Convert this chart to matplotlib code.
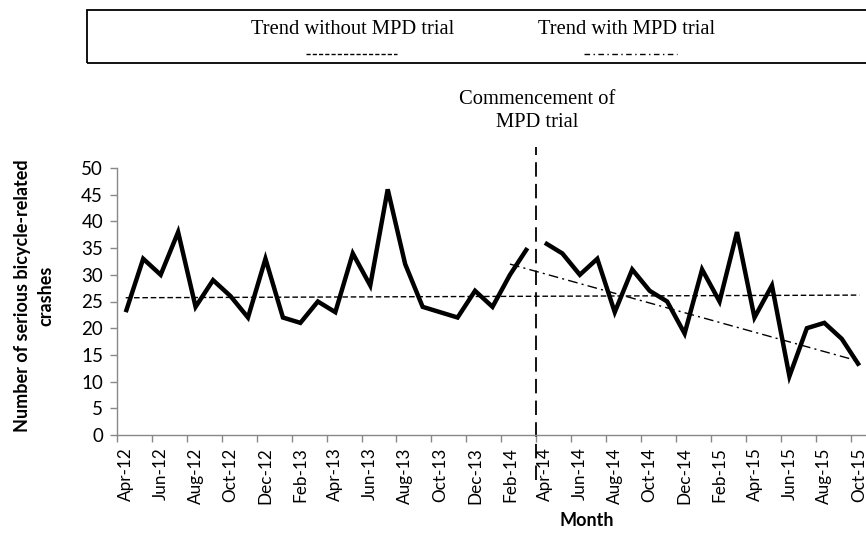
import matplotlib
matplotlib.use("Agg")
import matplotlib.pyplot as plt
from matplotlib.lines import Line2D
from matplotlib.patches import Rectangle
import numpy as np

months = ["Apr-12","May-12","Jun-12","Jul-12","Aug-12","Sep-12","Oct-12","Nov-12","Dec-12",
          "Jan-13","Feb-13","Mar-13","Apr-13","May-13","Jun-13","Jul-13","Aug-13","Sep-13",
          "Oct-13","Nov-13","Dec-13","Jan-14","Feb-14","Mar-14",
          "Apr-14","May-14","Jun-14","Jul-14","Aug-14","Sep-14","Oct-14","Nov-14","Dec-14",
          "Jan-15","Feb-15","Mar-15","Apr-15","May-15","Jun-15","Jul-15","Aug-15","Sep-15","Oct-15"]
pre_values = [23, 33, 30, 38, 24, 29, 26, 22, 33, 22, 21, 25, 23, 34, 28, 46, 32, 24,
              23, 22, 27, 24, 30, 35]
post_values = [36, 34, 30, 33, 23, 31, 27, 25, 19, 31, 25, 38, 22, 28, 11, 20, 21, 18, 13]
trend_without_x = ["Apr-12", "Oct-15"]
trend_without_y = [25.7, 26.2]
trend_with_x = ["Feb-14", "Oct-15"]
trend_with_y = [32.0, 13.8]
commencement_between = ["Mar-14", "Apr-14"]

SANS = ["Lato", "DejaVu Sans"]
SERIF = ["Liberation Serif", "DejaVu Serif"]

W, H = 866, 554
fig = plt.figure(figsize=(W/100, H/100), dpi=100)
x_left, x_right = 117, 868
y_bottom, y_top = 435, 168
ax = fig.add_axes([x_left/W, 1 - y_bottom/H, (x_right - x_left)/W, (y_bottom - y_top)/H])

idx = {m: i for i, m in enumerate(months)}
n_pre = len(pre_values)
x_pre = np.arange(n_pre)
x_post = np.arange(n_pre, n_pre + len(post_values))

ax.plot(x_pre, pre_values, color="black", lw=3.2, solid_joinstyle="miter", solid_capstyle="butt")
ax.plot(x_post, post_values, color="black", lw=3.2, solid_joinstyle="miter", solid_capstyle="butt")

ax.plot([idx[m] for m in trend_without_x], trend_without_y, color="black", lw=1.0,
        linestyle=(0, (4, 2)))
ax.plot([idx[m] for m in trend_with_x], trend_with_y, color="black", lw=1.0,
        linestyle=(0, (7, 3, 1.5, 3)))

xc = (idx[commencement_between[0]] + idx[commencement_between[1]]) / 2
ax.plot([xc, xc], [-8.4, 53.9], color="black", lw=1.3, linestyle=(0, (8, 4)), clip_on=False)

ax.set_xlim(-0.5, len(months) - 0.5)
ax.set_ylim(0, 50)
ax.set_yticks(range(0, 51, 5))

label_pos = list(range(0, len(months), 2))
ax.set_xticks(label_pos)
ax.set_xticklabels([months[i] for i in label_pos], rotation=90, fontsize=12.3, family=SANS)
ax.tick_params(axis="x", which="major", length=0, pad=9)
ax.set_xticks(np.arange(-0.5, len(months), 2), minor=True)
ax.tick_params(axis="x", which="minor", length=5, color="#888888", width=1)
ax.tick_params(axis="y", length=5, color="#888888", width=1, pad=5)
for lbl in ax.get_yticklabels():
    lbl.set_fontsize(13.5)
    lbl.set_family(SANS)

for s in ["top", "right"]:
    ax.spines[s].set_visible(False)
for s in ["left", "bottom"]:
    ax.spines[s].set_color("#888888")
    ax.spines[s].set_linewidth(1)

fig.text(34/W, 1 - 296/H, "Number of serious bicycle-related\ncrashes", rotation=90,
         ha="center", va="center", fontsize=13, fontweight="bold", family=SANS,
         linespacing=1.45)
fig.text(587/W, 1 - 520/H, "Month", ha="center", va="center", fontsize=13,
         fontweight="bold", family=SANS)

box = Rectangle((87/W, 1 - 63/H), (W + 5 - 87)/W, (63 - 10)/H, transform=fig.transFigure,
                fill=False, edgecolor="black", lw=1.3, clip_on=False)
fig.add_artist(box)
fig.text(353/W, 1 - 29/H, "Trend without MPD trial", ha="center", va="center",
         fontsize=14.8, family=SERIF)
fig.text(627/W, 1 - 29/H, "Trend with MPD trial", ha="center", va="center",
         fontsize=14.8, family=SERIF)
fig.add_artist(Line2D([306/W, 397/W], [1 - 54/H, 1 - 54/H], transform=fig.transFigure,
                      color="black", lw=1.0, linestyle=(0, (3, 1.5))))
fig.add_artist(Line2D([584/W, 677/W], [1 - 54/H, 1 - 54/H], transform=fig.transFigure,
                      color="black", lw=1.0, linestyle=(0, (4, 2.5, 1, 2.5))))

fig.text(537/W, 1 - 111/H, "Commencement of\nMPD trial", ha="center", va="center",
         fontsize=14.8, family=SERIF, linespacing=1.25)

fig.savefig("out.png", dpi=100)
